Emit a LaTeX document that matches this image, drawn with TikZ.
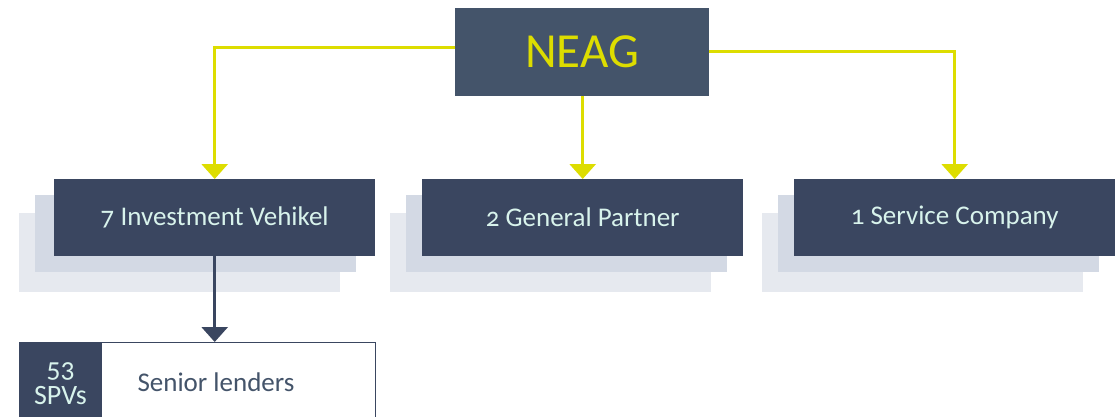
\documentclass[tikz,border=0pt]{standalone}
\usepackage{fontspec}
\setmainfont[Numbers=OldStyle]{Carlito}
\usetikzlibrary{arrows.meta}
\definecolor{navy}{HTML}{3A4660}
\definecolor{neagbg}{HTML}{44546A}
\definecolor{ylw}{HTML}{DDDD00}
\definecolor{mint}{HTML}{D8F3EC}
\definecolor{shadeA}{HTML}{D3D9E4}
\definecolor{shadeB}{HTML}{E6E9EF}
\definecolor{txtgray}{HTML}{44546A}
\tikzset{
  mainbox/.style={fill=navy, text=mint, font=\fontsize{27}{30}\selectfont, inner sep=0pt, minimum width=321pt, minimum height=77pt, anchor=north west},
  shA/.style={fill=shadeA},
  shB/.style={fill=shadeB},
  ylink/.style={draw=ylw, line width=3pt, -{Triangle[width=26pt,length=15pt]}},
  dlink/.style={draw=navy, line width=3pt, -{Triangle[width=26pt,length=15pt]}},
}
\begin{document}
\begin{tikzpicture}[x=1pt,y=-1pt]
\useasboundingbox (0,0) rectangle (1120,416);
\clip (0,0) rectangle (1120,416);
% shadows
\foreach \x in {19,390,762} {
  \fill[shB] (\x,213) rectangle ++(321,79);
  \fill[shA] (\x+16,195) rectangle ++(321,77);
}
% main boxes
\node[mainbox] (inv) at (54,179) {7 Investment Vehikel};
\node[mainbox] (gp) at (422,179) {2 General Partner};
\node[mainbox] (sc) at (794,179) {1 Service Company};
% NEAG
\node[fill=neagbg, text=ylw, font=\fontsize{49}{54}\selectfont, inner sep=0pt, minimum width=254pt, minimum height=88pt, anchor=north west] (neag) at (455,8) {NEAG};
% yellow connectors
\coordinate (nl) at (455,47);
\coordinate (nr) at (709,51);
\draw[ylink] (nl) -| (inv.north);
\draw[ylink] (nr) -| (sc.north);
\draw[ylink] (neag.south -| gp.north) -- (gp.north);
% bottom box
\node[draw=navy, line width=1pt, fill=white, inner sep=0pt, minimum width=356pt, minimum height=100pt, anchor=north west] (sl) at (19,342) {};
\node[fill=navy, inner sep=0pt, minimum width=83pt, minimum height=100pt, anchor=north west] (spv) at (19,342) {};
\node[text=mint, font=\fontsize{28}{27}\selectfont, align=center] (spvtxt) at (60.5,384) {53\\SPVs};
\node[text=txtgray, font=\fontsize{27}{30}\selectfont, anchor=west] (sltxt) at (134,382) {Senior lenders};
\draw[dlink] (inv.south) -- (inv.south |- sl.north);
\end{tikzpicture}
\end{document}
